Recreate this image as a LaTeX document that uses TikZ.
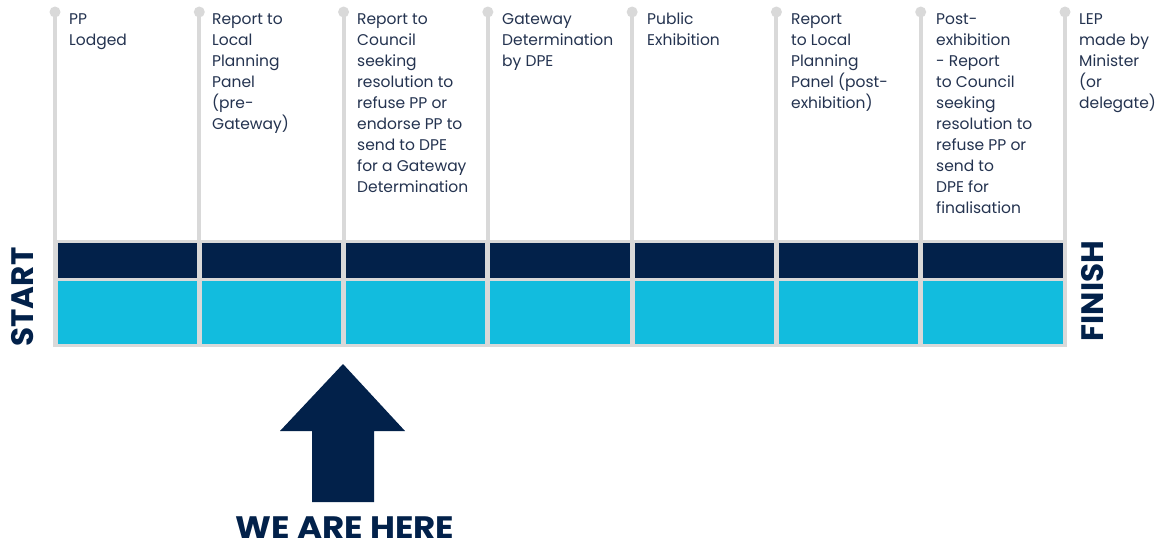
\documentclass[tikz,border=0pt]{standalone}
\usepackage{fontspec}
\setmainfont{Poppins}
\definecolor{navy}{HTML}{02214A}
\definecolor{cyanband}{HTML}{12BCDE}
\definecolor{lgrey}{HTML}{D9D9D9}
\definecolor{txt}{HTML}{243350}
\begin{document}
\begin{tikzpicture}[x=1pt,y=-1pt,
  stagetext/.style={anchor=north west,inner sep=0pt,align=left,text=txt,font=\fontsize{15.5}{21}\selectfont},
  bigword/.style={inner sep=0pt,text=navy,font=\fontsize{31}{31}\selectfont\bfseries},
  pole/.style={draw=lgrey,line width=4pt},
  dot/.style={fill=lgrey}]
\useasboundingbox[fill=white] (0,0) rectangle (1163,547);
% grey frame behind the bands
\fill[lgrey] (53,240) rectangle (1067,347);
\foreach \i in {0,...,6}{
  \pgfmathsetmacro{\xa}{55+144.2857*\i+2.5}
  \pgfmathsetmacro{\xb}{55+144.2857*(\i+1)-2.5}
  \fill[navy] (\xa,243) rectangle (\xb,278);
  \fill[cyanband] (\xa,281) rectangle (\xb,344);
}
% poles
\foreach \i in {0,...,7}{
  \pgfmathsetmacro{\xx}{55+144.2857*\i}
  \coordinate (top\i) at (\xx,12);
  \coordinate (bot\i) at (\xx,347);
  \draw[pole] (top\i) -- (bot\i);
  \fill[dot] (top\i) circle (5.5);
}
% stage texts
\node[stagetext] (s0) at (69,13) {PP\\Lodged};
\node[stagetext] (s1) at (212,13) {Report to\\Local\\Planning\\Panel\\(pre-\\Gateway)};
\node[stagetext] (s2) at (357,13) {Report to\\Council\\seeking\\resolution to\\refuse PP or\\endorse PP to\\send to DPE\\for a Gateway\\Determination};
\node[stagetext] (s3) at (502,13) {Gateway\\Determination\\by DPE};
\node[stagetext] (s4) at (647,13) {Public\\Exhibition};
\node[stagetext] (s5) at (791,13) {Report\\to Local\\Planning\\Panel (post-\\exhibition)};
\node[stagetext] (s6) at (936,13) {Post-\\exhibition\\- Report\\to Council\\seeking\\resolution to\\refuse PP or\\send to\\DPE for\\finalisation};
\node[stagetext] (s7) at (1079,13) {LEP\\made by\\Minister\\(or\\delegate)};
% start / finish
\node[bigword,rotate=90] (start) at (23,297) {START};
\node[bigword,rotate=90] (finish) at (1093,291) {FINISH};
% arrow
\fill[navy] (343,364) -- (405,431) -- (374,431) -- (374,502) -- (312,502) -- (312,431) -- (280,431) -- cycle;
\node[bigword,xscale=1.1] (here) at (345,527.5) {WE ARE HERE};
\end{tikzpicture}
\end{document}
